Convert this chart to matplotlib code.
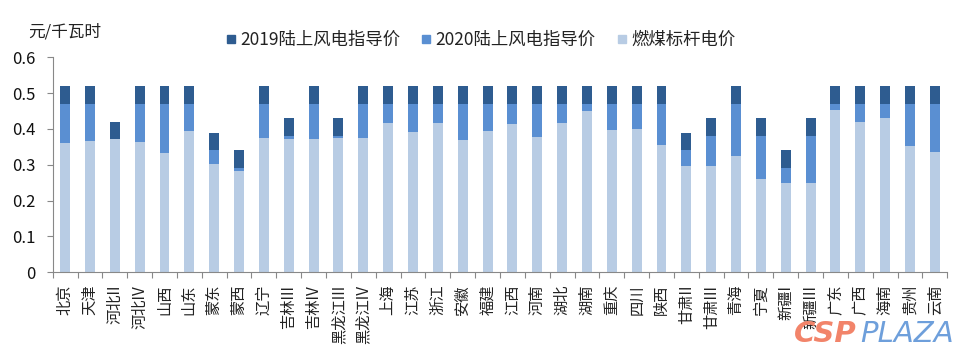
import matplotlib
matplotlib.use("Agg")
import matplotlib.pyplot as plt
from matplotlib.lines import Line2D
from matplotlib.ticker import FixedLocator, FuncFormatter
import numpy as np

plt.rcParams['font.family'] = ['Noto Sans CJK SC', 'DejaVu Sans']

regions = ['北京', '天津', '河北II', '河北IV', '山西', '山东', '蒙东', '蒙西', '辽宁',
           '吉林III', '吉林IV', '黑龙江III', '黑龙江IV', '上海', '江苏', '浙江', '安徽', '福建',
           '江西', '河南', '湖北', '湖南', '重庆', '四川', '陕西', '甘肃II', '甘肃III',
           '青海', '宁夏', '新疆I', '新疆III', '广东', '广西', '海南', '贵州', '云南']

price_2019 = [0.52, 0.52, 0.42, 0.52, 0.52, 0.52, 0.39, 0.34, 0.52,
              0.43, 0.52, 0.43, 0.52, 0.52, 0.52, 0.52, 0.52, 0.52,
              0.52, 0.52, 0.52, 0.52, 0.52, 0.52, 0.52, 0.39, 0.43,
              0.52, 0.43, 0.34, 0.43, 0.52, 0.52, 0.52, 0.52, 0.52]

price_2020 = [0.47, 0.47, 0.37, 0.47, 0.47, 0.47, 0.34, 0.29, 0.47,
              0.38, 0.47, 0.38, 0.47, 0.47, 0.47, 0.47, 0.47, 0.47,
              0.47, 0.47, 0.47, 0.47, 0.47, 0.47, 0.47, 0.34, 0.38,
              0.47, 0.38, 0.29, 0.38, 0.47, 0.47, 0.47, 0.47, 0.47]

coal_price = [0.3598, 0.3655, 0.372, 0.3644, 0.332, 0.3949, 0.3035, 0.2829, 0.3749,
              0.3731, 0.3731, 0.374, 0.374, 0.4155, 0.391, 0.4153, 0.3693, 0.3932,
              0.4143, 0.3779, 0.4161, 0.45, 0.3964, 0.4012, 0.3545, 0.297, 0.297,
              0.3247, 0.2595, 0.25, 0.25, 0.453, 0.4207, 0.4298, 0.3515, 0.3358]

series_names = ['2019陆上风电指导价', '2020陆上风电指导价', '燃煤标杆电价']
yticks = [0, 0.1, 0.2, 0.3, 0.4, 0.5, 0.6]

c_dark = '#2E5C90'
c_mid = '#5A8FD2'
c_light = '#B8CCE4'

coal = np.array(coal_price)
p19 = np.array(price_2019)
p20 = np.array(price_2020)
seg_mid = np.clip(p20 - coal, 0, None)
seg_top = p19 - np.maximum(coal, p20)

fig = plt.figure(figsize=(9.68, 3.62), dpi=100)
ax = fig.add_axes([0.0544, 0.2478, 0.9242, 0.5939])

x = np.arange(len(regions))
w = 0.4
ax.bar(x, coal, width=w, color=c_light, zorder=2)
ax.bar(x, seg_mid, width=w, bottom=coal, color=c_mid, zorder=2)
ax.bar(x, seg_top, width=w, bottom=coal + seg_mid, color=c_dark, zorder=2)

ax.set_xlim(-0.5, len(regions) - 0.5)
ax.set_ylim(0, 0.6)
ax.set_yticks(yticks)
ax.yaxis.set_major_formatter(FuncFormatter(lambda v, p: '0' if v == 0 else f'{v:.1f}'))
ax.tick_params(axis='y', direction='out', length=4, width=0.8, color='#888888',
               labelsize=12, pad=8, labelcolor='#111111')

ax.set_xticks(x)
ax.set_xticklabels(regions, rotation=90, fontsize=11, color='#222222')
ax.tick_params(axis='x', which='major', length=0, pad=9)
ax.xaxis.set_minor_locator(FixedLocator(np.arange(-0.5, len(regions), 1.0)))
ax.tick_params(axis='x', which='minor', direction='out', length=4.5, width=0.8, color='#888888')

for s in ['top', 'right']:
    ax.spines[s].set_visible(False)
for s in ['left', 'bottom']:
    ax.spines[s].set_color('#888888')
    ax.spines[s].set_linewidth(0.8)

fig.text(0.029, 0.912, '元/千瓦时', fontsize=12, color='#222222', va='center', ha='left')

handles = [Line2D([], [], marker='s', linestyle='none', markersize=6, color=c)
           for c in (c_dark, c_mid, c_light)]
fig.legend(handles, series_names, loc='center', bbox_to_anchor=(0.4964, 0.8895), ncol=3,
           frameon=False, fontsize=12.5, handlelength=0.6, handletextpad=0.25,
           columnspacing=1.2, borderpad=0, labelcolor='#222222')

# watermark
fig.text(0.820, 0.055, 'CSP', fontsize=21, fontweight='bold', style='italic',
         color='#F2846A', ha='left', va='baseline', family='DejaVu Sans', zorder=5)
fig.text(0.889, 0.055, 'PLAZA', fontsize=21, style='italic',
         color='#6E9FDB', ha='left', va='baseline', family='DejaVu Sans', zorder=5)

fig.savefig('out.png', dpi=100)
